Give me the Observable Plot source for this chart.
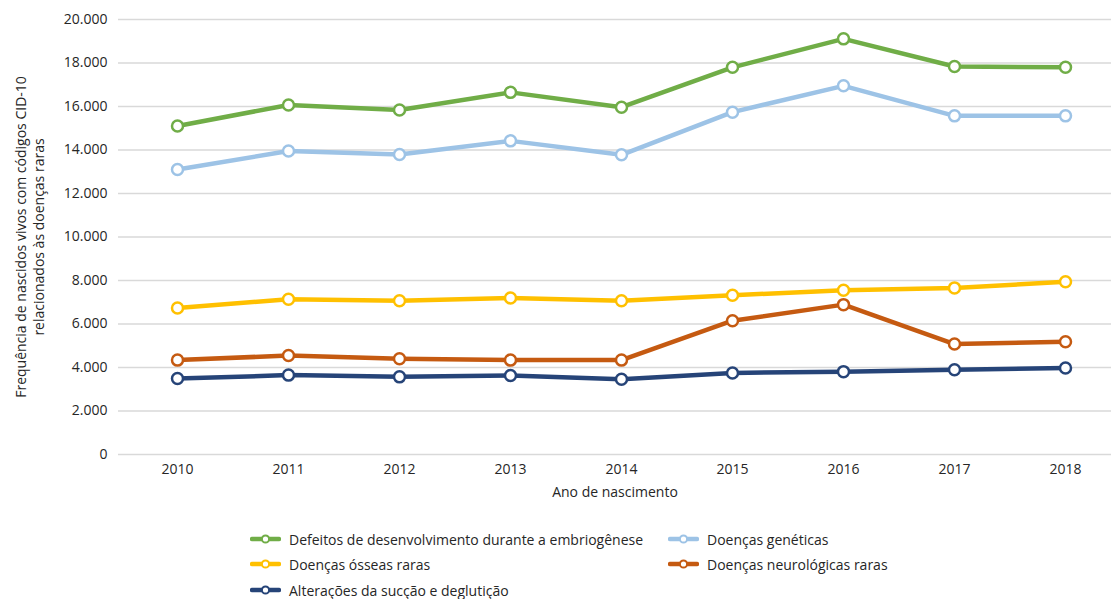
<!DOCTYPE html>
<html>
<head>
<meta charset="utf-8">
<script src="https://cdn.jsdelivr.net/npm/d3@7"></script>
<script src="https://cdn.jsdelivr.net/npm/@observablehq/plot@0.6"></script>
<style>
  html, body { margin: 0; padding: 0; background: #fff; }
  body { font-family: "Open Sans", sans-serif; color: #262626; }
  #wrap { position: relative; width: 1111px; height: 599px; }
  #legend { position: absolute; left: 0; top: 0; width: 1111px; height: 599px; pointer-events: none; }
  .item { position: absolute; display: flex; align-items: center; font-size: 14px; white-space: nowrap; }
  .item svg { margin-right: 8px; }
</style>
</head>
<body>
<div id="wrap"><div id="chart"></div><div id="legend"></div></div>
<script>
const years = [2010, 2011, 2012, 2013, 2014, 2015, 2016, 2017, 2018];
const seriesNames = [
  "Defeitos de desenvolvimento durante a embriogênese",
  "Doenças genéticas",
  "Doenças ósseas raras",
  "Doenças neurológicas raras",
  "Alterações da sucção e deglutição"
];
const seriesColors = ["#70AD47", "#9DC3E6", "#FFC000", "#C55A11", "#264478"];
const defeitos   = [15100, 16070, 15840, 16650, 15970, 17800, 19110, 17840, 17800];
const geneticas  = [13100, 13950, 13790, 14420, 13780, 15740, 16950, 15570, 15570];
const osseas     = [6740, 7140, 7070, 7200, 7070, 7320, 7550, 7660, 7940];
const neuro      = [4340, 4550, 4400, 4340, 4340, 6150, 6890, 5080, 5180];
const succao     = [3490, 3650, 3570, 3630, 3460, 3750, 3810, 3900, 3980];
const yTicks = [0, 2000, 4000, 6000, 8000, 10000, 12000, 14000, 16000, 18000, 20000];
const yTitle = "Frequência de nascidos vivos com códigos CID-10\nrelacionados às doenças raras";
const xTitle = "Ano de nascimento";

const valuesBySeries = [defeitos, geneticas, osseas, neuro, succao];
const data = [];
seriesNames.forEach((s, i) => years.forEach((y, j) => data.push({series: s, year: y, value: valuesBySeries[i][j]})));
const drawOrder = [...data].reverse();

const ptFmt = d3.formatLocale({decimal: ",", thousands: ".", grouping: [3], currency: ["R$", ""]}).format(",");

const chart = Plot.plot({
  width: 1111,
  height: 516,
  marginTop: 19,
  marginBottom: 62,
  marginLeft: 118,
  marginRight: 0,
  style: {fontFamily: "Open Sans, sans-serif", fontSize: "14px", color: "#262626", background: "#fff"},
  x: {type: "point", domain: years, range: [175, 1066], padding: 0},
  y: {domain: [0, 20000]},
  color: {domain: seriesNames, range: seriesColors},
  marks: [
    Plot.ruleY(yTicks, {stroke: "#d9d9d9", strokeWidth: 1.3}),
    Plot.axisY({ticks: yTicks, tickSize: 0, tickPadding: 11, tickFormat: ptFmt, label: null, fontSize: 14}),
    Plot.axisX({tickSize: 0, tickPadding: 10, tickFormat: d => String(d), label: null, fontSize: 14}),
    Plot.text([xTitle], {frameAnchor: "bottom", dy: 42, fontSize: 14}),
    Plot.text([yTitle], {frameAnchor: "left", dx: -89, rotate: -90, textAnchor: "middle", fontSize: 14, lineHeight: 1.25}),
    Plot.line(drawOrder, {x: "year", y: "value", z: "series", stroke: "series", strokeWidth: 4.5, strokeLinejoin: "round", curve: "linear"}),
    Plot.dot(drawOrder, {x: "year", y: "value", stroke: "series", fill: "white", r: 5.5, strokeWidth: 2.5})
  ]
});
document.getElementById("chart").appendChild(chart);

const legendPos = [
  {left: 250, top: 539},
  {left: 668, top: 539},
  {left: 250, top: 564},
  {left: 668, top: 564},
  {left: 250, top: 590}
];
const legend = document.getElementById("legend");
seriesNames.forEach((name, i) => {
  const div = document.createElement("div");
  div.className = "item";
  div.style.left = legendPos[i].left + "px";
  div.style.top = (legendPos[i].top - 10) + "px";
  div.style.height = "20px";
  const c = seriesColors[i];
  div.innerHTML = `<svg width="31" height="12"><line x1="2" y1="6" x2="29" y2="6" stroke="${c}" stroke-width="4.5" stroke-linecap="round"/><circle cx="15.5" cy="6" r="3.6" fill="white" stroke="${c}" stroke-width="2"/></svg><span>${name}</span>`;
  legend.appendChild(div);
});
</script>
</body>
</html>
